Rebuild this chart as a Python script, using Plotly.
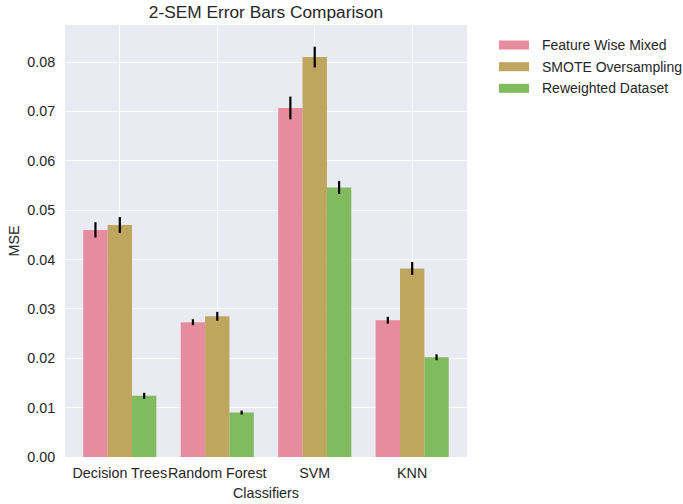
import plotly.graph_objects as go

categories = ["Decision Trees", "Random Forest", "SVM", "KNN"]
series_names = ["Feature Wise Mixed", "SMOTE Oversampling", "Reweighted Dataset"]
feature_wise = [0.0460, 0.0273, 0.0707, 0.0277]
smote = [0.0470, 0.0285, 0.0810, 0.0382]
reweighted = [0.0124, 0.0090, 0.0546, 0.0202]
feature_wise_err = [0.00155, 0.0006, 0.0023, 0.0007]
smote_err = [0.0016, 0.0009, 0.0021, 0.0013]
reweighted_err = [0.0006, 0.0004, 0.0013, 0.0006]
colors = ["#E78C9F", "#BEA65F", "#80BB5F"]
y_ticks = [0.00, 0.01, 0.02, 0.03, 0.04, 0.05, 0.06, 0.07, 0.08]

values = [feature_wise, smote, reweighted]
errors = [feature_wise_err, smote_err, reweighted_err]
xpos = list(range(len(categories)))

fig = go.Figure()
for name, vals, errs, col in zip(series_names, values, errors, colors):
    fig.add_trace(go.Bar(
        x=xpos, y=vals, name=name,
        marker=dict(color=col, line=dict(width=0)),
        error_y=dict(type="data", array=errs, visible=True, color="black",
                     thickness=2.2, width=0),
        showlegend=False,
    ))

font_color = "#262626"
fam = "Liberation Sans, Arial, sans-serif"
fs = 14.3

# manual legend
plot_l, plot_r, plot_t, plot_b = 65, 467, 25, 457
pw, ph = plot_r - plot_l, plot_b - plot_t
rows_y = [45, 66.7, 88.3]
for name, col, ry in zip(series_names, colors, rows_y):
    fig.add_shape(type="rect", xref="paper", yref="paper",
                  x0=(499 - plot_l) / pw, x1=(529 - plot_l) / pw,
                  y0=(plot_b - ry - 4.5) / ph, y1=(plot_b - ry + 4.5) / ph,
                  fillcolor=col, line=dict(width=0))
    fig.add_annotation(xref="paper", yref="paper",
                       x=(540 - plot_l) / pw, y=(plot_b - ry) / ph,
                       xanchor="left", yanchor="middle", showarrow=False,
                       text=name, font=dict(size=14, color=font_color, family=fam))

fig.update_layout(
    width=683, height=504,
    margin=dict(l=plot_l, r=683 - plot_r, t=plot_t, b=504 - plot_b),
    paper_bgcolor="white", plot_bgcolor="#EAEAF2",
    barmode="group", bargap=0.25, bargroupgap=0,
    font=dict(family=fam, size=fs, color=font_color),
    title=dict(text="2-SEM Error Bars Comparison", x=(plot_l + plot_r) / 2 / 683,
               xanchor="center", y=1 - 12 / 504, yanchor="middle",
               font=dict(size=17.3, color=font_color, family=fam)),
    xaxis=dict(range=[-0.5625, 3.5625], tickvals=xpos, ticktext=categories,
               tickangle=0, automargin=False,
               showgrid=True, gridcolor="white", gridwidth=1.3, zeroline=False,
               ticks="outside", ticklen=3, tickcolor="rgba(0,0,0,0)",
               title=dict(text="Classifiers", standoff=7, font=dict(size=fs)),
               showline=False),
    yaxis=dict(range=[0, 0.0875], tickvals=y_ticks, tickformat=".2f",
               automargin=False,
               showgrid=True, gridcolor="white", gridwidth=1.3, zeroline=False,
               ticks="outside", ticklen=6, tickcolor="rgba(0,0,0,0)",
               title=dict(text="MSE", standoff=4, font=dict(size=fs)),
               showline=False),
)

fig.write_html("out.html", config={"displayModeBar": False},
               post_script="document.body.style.margin='0';document.body.style.padding='0';")
